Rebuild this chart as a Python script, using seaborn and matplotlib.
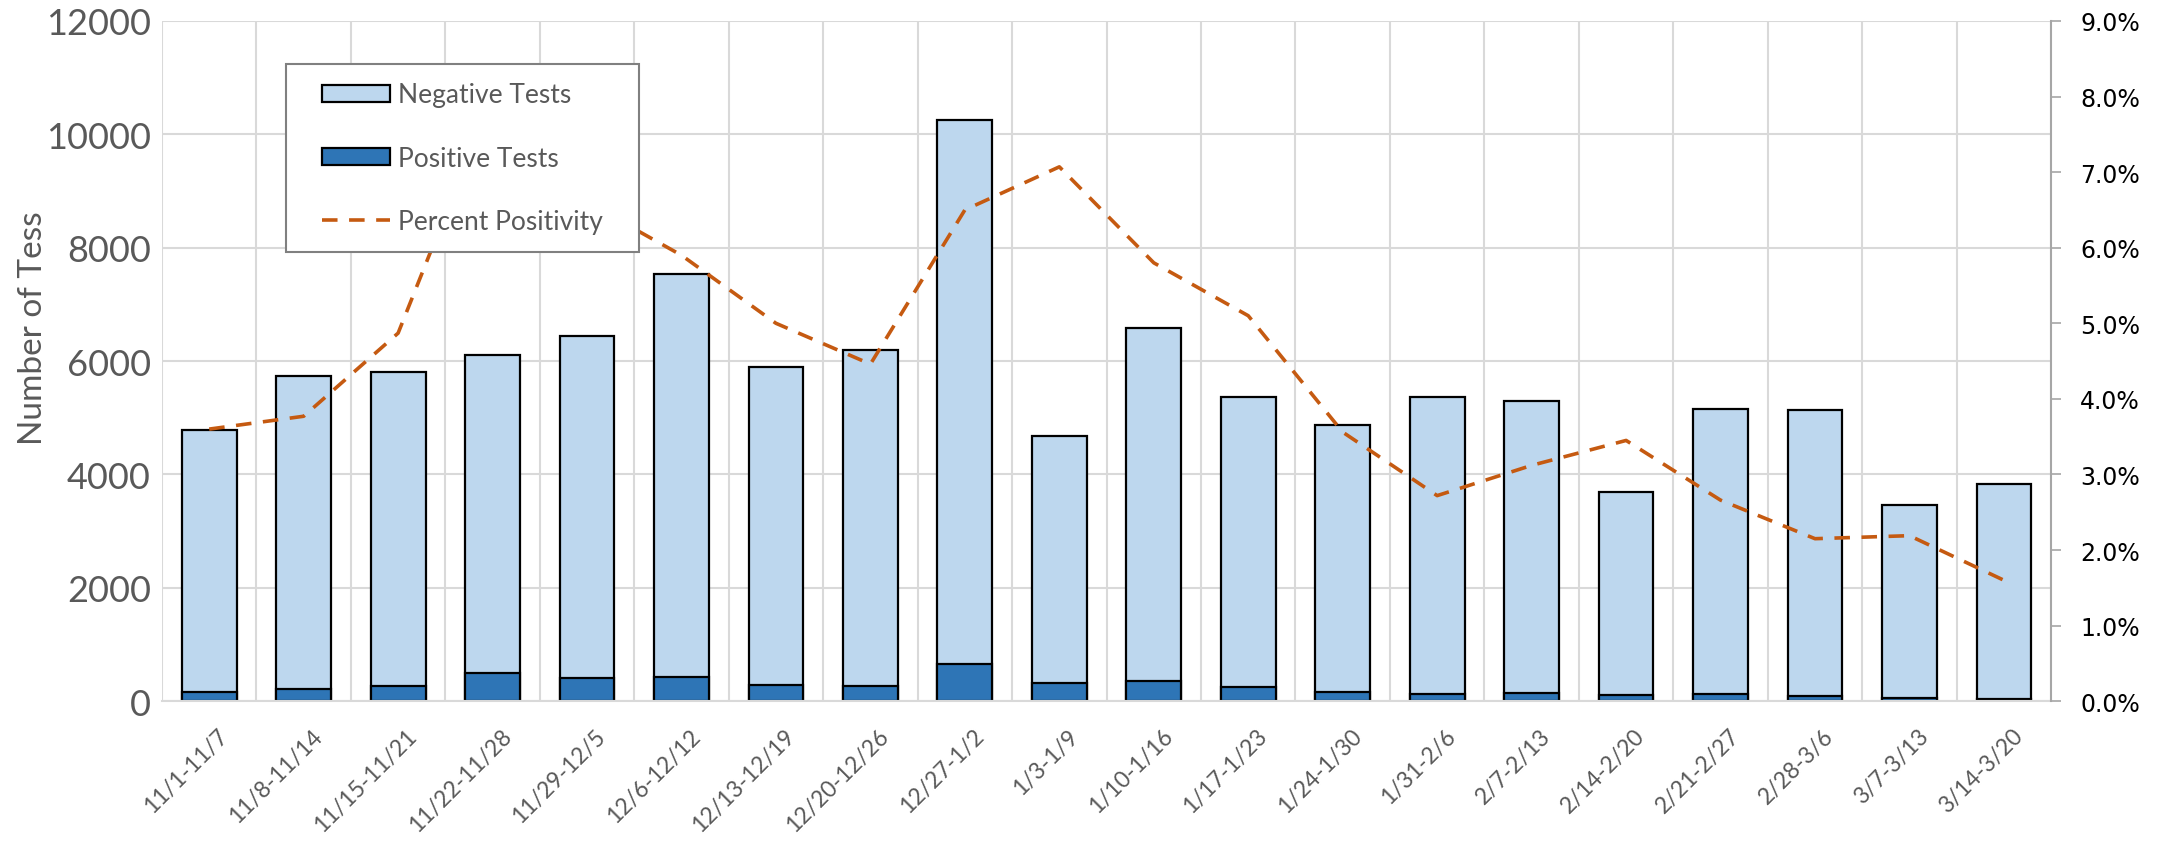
import numpy as np
import pandas as pd
import matplotlib
matplotlib.use("Agg")
import matplotlib.pyplot as plt
from matplotlib.patches import Patch
from matplotlib.lines import Line2D
from matplotlib.legend_handler import HandlerPatch, HandlerLine2D
from matplotlib.ticker import MultipleLocator, FixedLocator, PercentFormatter
from matplotlib.transforms import ScaledTranslation
import seaborn as sns

weeks = ["11/1-11/7", "11/8-11/14", "11/15-11/21", "11/22-11/28", "11/29-12/5",
         "12/6-12/12", "12/13-12/19", "12/20-12/26", "12/27-1/2", "1/3-1/9",
         "1/10-1/16", "1/17-1/23", "1/24-1/30", "1/31-2/6", "2/7-2/13",
         "2/14-2/20", "2/21-2/27", "2/28-3/6", "3/7-3/13", "3/14-3/20"]
positive = [160, 210, 275, 500, 415, 430, 285, 265, 655, 320,
            365, 253, 171, 130, 153, 112, 124, 100, 65, 47]
negative = [4620, 5530, 5525, 5600, 6025, 7110, 5615, 5935, 9595, 4360,
            6215, 5107, 4709, 5230, 5147, 3578, 5026, 5030, 3395, 3793]
percent_positivity = [3.60, 3.77, 4.87, 8.0, 6.6, 5.9, 5.0, 4.46, 6.5, 7.07,
                      5.8, 5.1, 3.56, 2.72, 3.12, 3.45, 2.66, 2.15, 2.19, 1.6]

df = pd.DataFrame({"week": weeks, "positive": positive, "negative": negative,
                   "pct": percent_positivity})
df["total"] = df["positive"] + df["negative"]

sns.set_theme(style="white")
plt.rcParams["font.family"] = ["Lato", "DejaVu Sans"]

C_NEG = "#BDD7EE"
C_POS = "#2E75B6"
C_LINE = "#C55A11"
GRID = "#D9D9D9"
GRAYTXT = "#595959"
DASH = (4.3, 3.2)
LW = 2.6

fig = plt.figure(figsize=(21.74, 8.45), dpi=100)
ax = fig.add_axes([0.0745, 0.169, 0.869, 0.805])

sns.barplot(data=df, x="week", y="total", color=C_NEG, saturation=1, width=0.58,
            edgecolor="black", linewidth=1.6, ax=ax, order=weeks)
sns.barplot(data=df, x="week", y="positive", color=C_POS, saturation=1, width=0.58,
            edgecolor="black", linewidth=1.6, ax=ax, order=weeks)

ax.set_xlim(-0.5, len(weeks) - 0.5)
ax.set_ylim(0, 12000)
ax.yaxis.set_major_locator(MultipleLocator(2000))
ax.xaxis.set_minor_locator(FixedLocator(np.arange(-0.5, len(weeks), 1.0)))
ax.set_axisbelow(True)
ax.grid(axis="y", which="major", color=GRID, linewidth=1.5)
ax.grid(axis="x", which="minor", color=GRID, linewidth=1.5)
ax.grid(axis="x", which="major", visible=False)
for s in ["top", "right", "left"]:
    ax.spines[s].set_visible(False)
ax.spines["bottom"].set_color(GRID)
ax.spines["bottom"].set_linewidth(1.5)
ax.tick_params(axis="y", which="both", length=0, labelsize=26, labelcolor=GRAYTXT, pad=8)
ax.tick_params(axis="x", which="both", length=0, labelsize=16.5, labelcolor=GRAYTXT, pad=17)
ax.set_xticks(range(len(weeks)))
ax.set_xticklabels(weeks, rotation=45, ha="right", va="top", rotation_mode="anchor")
shift = ScaledTranslation(8 / 100, 0, fig.dpi_scale_trans)
for t in ax.get_xticklabels():
    t.set_transform(t.get_transform() + shift)
ax.set_xlabel("")
ax.set_ylabel("Number of Tess", fontsize=24, color=GRAYTXT)
ax.yaxis.set_label_coords(-0.0605, 0.55)

ax2 = ax.twinx()
sns.lineplot(x=np.arange(len(weeks)), y=df["pct"], ax=ax2, color=C_LINE,
             linewidth=LW)
ax2.lines[-1].set_dashes(DASH)
ax2.set_ylim(0, 9)
ax2.yaxis.set_major_locator(MultipleLocator(1))
ax2.yaxis.set_major_formatter(PercentFormatter(decimals=1))
ax2.set_ylabel("")
ax2.grid(False)
for s in ["top", "left", "bottom"]:
    ax2.spines[s].set_visible(False)
ax2.spines["right"].set_visible(True)
ax2.spines["right"].set_color("#A6A6A6")
ax2.spines["right"].set_linewidth(1.5)
ax2.tick_params(axis="y", direction="out", length=7, width=1.2, color="#A6A6A6",
                labelsize=17, labelcolor="black", pad=14)
for t in ax2.get_yticklabels():
    t.set_family("DejaVu Sans")
ax2.set_xlim(-0.5, len(weeks) - 0.5)

handles = [Patch(facecolor=C_NEG, edgecolor="black", linewidth=1.6),
           Patch(facecolor=C_POS, edgecolor="black", linewidth=1.6),
           Line2D([0], [0], color=C_LINE, linewidth=LW, dashes=DASH)]
xp = 0.66
leg = ax2.legend(handles, ["Negative Tests", "Positive Tests", "Percent Positivity"],
                 loc="upper left", bbox_to_anchor=(0.0656, 0.45, 0.1869, 0.4868),
                 mode="expand", borderaxespad=0,
                 fontsize=19, handlelength=3.24, handleheight=0.6, labelspacing=1.45,
                 handletextpad=0.3, borderpad=0.7, fancybox=False, framealpha=1,
                 edgecolor="#808080",
                 handler_map={Patch: HandlerPatch(xpad=xp), Line2D: HandlerLine2D(xpad=xp)})
leg.get_frame().set_linewidth(1.5)
for t in leg.get_texts():
    t.set_color(GRAYTXT)
leg.set_zorder(10)

fig.savefig("out.png", dpi=100)
